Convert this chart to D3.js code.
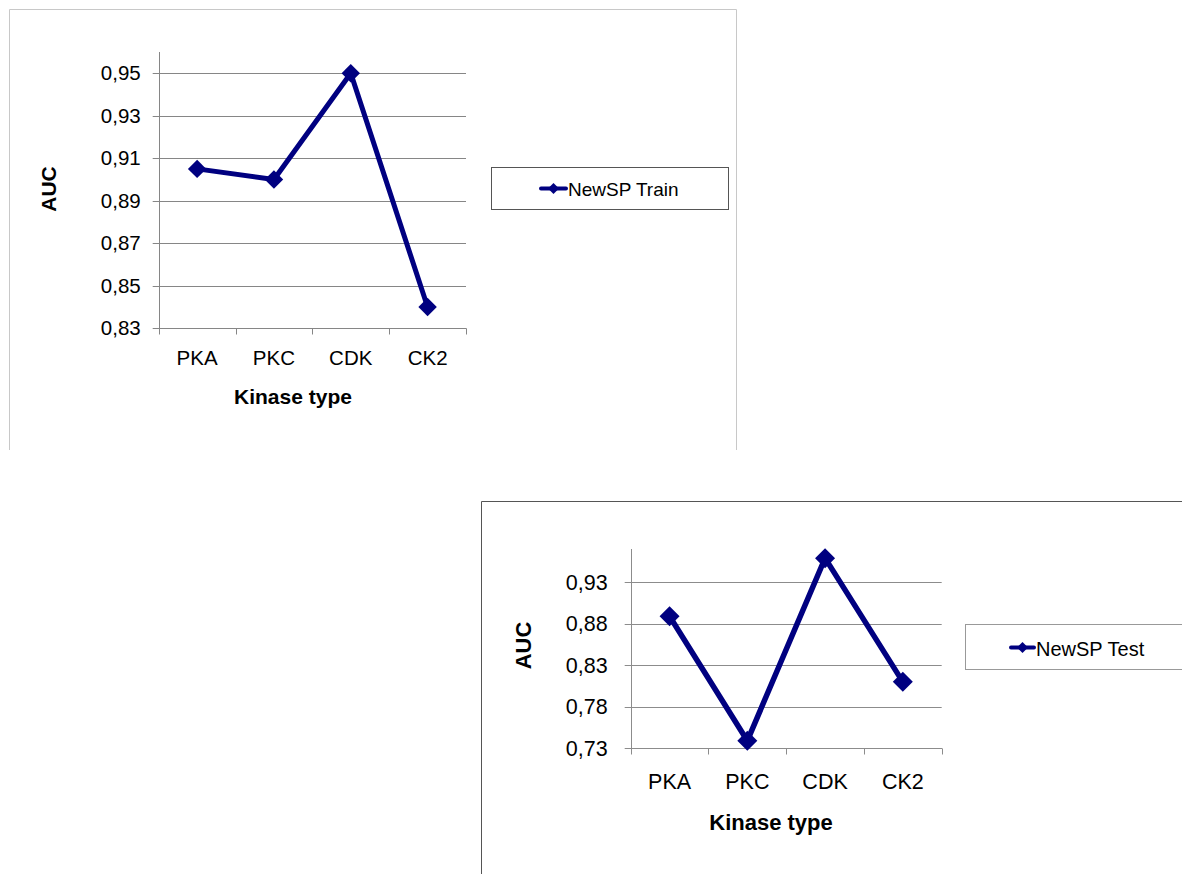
<!DOCTYPE html>
<html>
<head>
<meta charset="utf-8">
<script src="https://cdn.jsdelivr.net/npm/d3@7"></script>
<style>
  html, body { margin: 0; padding: 0; background: #fff; }
  svg { display: block; font-family: "Liberation Sans", Arial, sans-serif; }
</style>
</head>
<body>
<svg id="chart" width="1182" height="874"></svg>
<script>
// ---- data ----
const categories = ["PKA", "PKC", "CDK", "CK2"];
const trainAUC = [0.905, 0.900, 0.950, 0.840];
const testAUC = [0.889, 0.739, 0.959, 0.810];
const trainTicks = [0.83, 0.85, 0.87, 0.89, 0.91, 0.93, 0.95];
const testTicks = [0.73, 0.78, 0.83, 0.88, 0.93];
const trainDomain = [0.83, 0.96];
const testDomain = [0.73, 0.97];
const seriesNames = ["NewSP Train", "NewSP Test"];
const xTitle = "Kinase type";
const yTitle = "AUC";

const svg = d3.select("#chart");
const fmt = v => d3.format(".2f")(v).replace(".", ",");
const px = v => Math.round(v) + 0.5;

function drawChart(o) {
  const g = svg.append("g");
  // outer frame
  g.append("path")
    .attr("d", o.framePath)
    .attr("fill", "none")
    .attr("stroke", o.frameColor)
    .attr("stroke-width", 1);

  const x = d3.scaleBand().domain(categories).range([o.x0, o.x1]).padding(0);
  const y = d3.scaleLinear().domain(o.domain).range([o.y0, o.y1]);

  // gridlines + y ticks
  g.append("g").selectAll("line").data(o.ticks).join("line")
    .attr("x1", o.x0 - 6).attr("x2", o.x1)
    .attr("y1", d => px(y(d))).attr("y2", d => px(y(d)))
    .attr("stroke", o.gridColor).attr("stroke-width", 1);

  // y axis labels through d3 axis
  const yAxis = d3.axisLeft(y).tickValues(o.ticks).tickFormat(fmt).tickSize(0).tickPadding(o.yLabelPad);
  const ya = g.append("g").attr("transform", `translate(${o.x0},0)`).call(yAxis);
  ya.select(".domain").remove();
  ya.selectAll("text").attr("font-size", o.tickFont).attr("fill", "#000")
    .attr("font-family", "'Liberation Sans', Arial, sans-serif");

  // y axis line
  g.append("line")
    .attr("x1", px(o.x0)).attr("x2", px(o.x0))
    .attr("y1", o.y1).attr("y2", o.y0)
    .attr("stroke", o.gridColor);
  // x axis line
  g.append("line")
    .attr("x1", o.x0).attr("x2", o.x1 + 0.5)
    .attr("y1", px(o.y0)).attr("y2", px(o.y0))
    .attr("stroke", o.gridColor);
  // category boundary ticks
  const edges = categories.map(c => x(c)).concat([x(categories[categories.length - 1]) + x.bandwidth()]);
  g.append("g").selectAll("line").data(edges).join("line")
    .attr("x1", d => px(d)).attr("x2", d => px(d))
    .attr("y1", px(o.y0)).attr("y2", px(o.y0) + 6)
    .attr("stroke", o.gridColor);

  // x labels via axis
  const xAxis = d3.axisBottom(x).tickSize(0).tickPadding(o.xLabelPad);
  const xa = g.append("g").attr("transform", `translate(0,${o.y0})`).call(xAxis);
  xa.select(".domain").remove();
  xa.selectAll("text").attr("font-size", o.tickFont).attr("fill", "#000")
    .attr("font-family", "'Liberation Sans', Arial, sans-serif");

  // axis titles
  g.append("text")
    .attr("x", o.xTitleX).attr("y", o.xTitleY)
    .attr("text-anchor", "middle").attr("font-weight", "bold")
    .attr("font-size", o.titleFont).text(xTitle);
  g.append("text")
    .attr("transform", `translate(${o.yTitleX},${o.yTitleY}) rotate(-90)`)
    .attr("text-anchor", "middle").attr("font-weight", "bold")
    .attr("font-size", o.titleFont).text(yTitle);

  // line
  const cx = c => x(c) + x.bandwidth() / 2;
  const line = d3.line().x((d, i) => cx(categories[i])).y(d => y(d));
  g.append("path").datum(o.values)
    .attr("d", line).attr("fill", "none")
    .attr("stroke", "#000080").attr("stroke-width", o.lineWidth)
    .attr("stroke-linejoin", "miter");
  const sym = d3.symbol().type(d3.symbolSquare).size(o.markerSize);
  g.append("g").selectAll("path").data(o.values).join("path")
    .attr("d", sym)
    .attr("transform", (d, i) => `translate(${cx(categories[i])},${y(d)}) rotate(45)`)
    .attr("fill", "#000080");

  // legend
  const L = o.legend;
  g.append("rect")
    .attr("x", L.x + 0.5).attr("y", L.y + 0.5)
    .attr("width", L.w).attr("height", L.h)
    .attr("fill", "#fff").attr("stroke", L.stroke);
  g.append("line")
    .attr("x1", L.lx0).attr("x2", L.lx1)
    .attr("y1", L.ly).attr("y2", L.ly)
    .attr("stroke", "#000080").attr("stroke-width", 4).attr("stroke-linecap", "round");
  g.append("path")
    .attr("d", d3.symbol().type(d3.symbolSquare).size(L.ms)())
    .attr("transform", `translate(${(L.lx0 + L.lx1) / 2},${L.ly}) rotate(45)`)
    .attr("fill", "#000080");
  g.append("text")
    .attr("x", L.tx).attr("y", L.ty)
    .attr("font-size", L.font).attr("fill", "#000")
    .text(o.name);
}

drawChart({
  name: seriesNames[0],
  values: trainAUC, ticks: trainTicks, domain: trainDomain,
  framePath: "M9.5,450 V9.5 H736.5 V450",
  frameColor: "#c8c8c8",
  gridColor: "#868686",
  x0: 158.7, x1: 466, y0: 328.3, y1: 52,
  yLabelPad: 18, xLabelPad: 22,
  tickFont: 20.5, titleFont: 21,
  xTitleX: 293, xTitleY: 404, yTitleX: 56, yTitleY: 189,
  lineWidth: 5, markerSize: 170,
  legend: { x: 491, y: 167, w: 237, h: 42, stroke: "#555",
            lx0: 541, lx1: 566, ly: 188.5, ms: 60,
            tx: 568, ty: 195.5, font: 19 }
});

drawChart({
  name: seriesNames[1],
  values: testAUC, ticks: testTicks, domain: testDomain,
  framePath: "M481.5,874 V501.5 H1182",
  frameColor: "#555",
  gridColor: "#8c8c8c",
  x0: 630.7, x1: 941.7, y0: 748.3, y1: 549,
  yLabelPad: 23, xLabelPad: 25,
  tickFont: 21.5, titleFont: 22,
  xTitleX: 771, xTitleY: 830, yTitleX: 530.5, yTitleY: 645.5,
  lineWidth: 5.5, markerSize: 200,
  legend: { x: 965, y: 624, w: 240, h: 45, stroke: "#999",
            lx0: 1011, lx1: 1034, ly: 647.5, ms: 60,
            tx: 1036, ty: 655.5, font: 20 }
});
</script>
</body>
</html>
